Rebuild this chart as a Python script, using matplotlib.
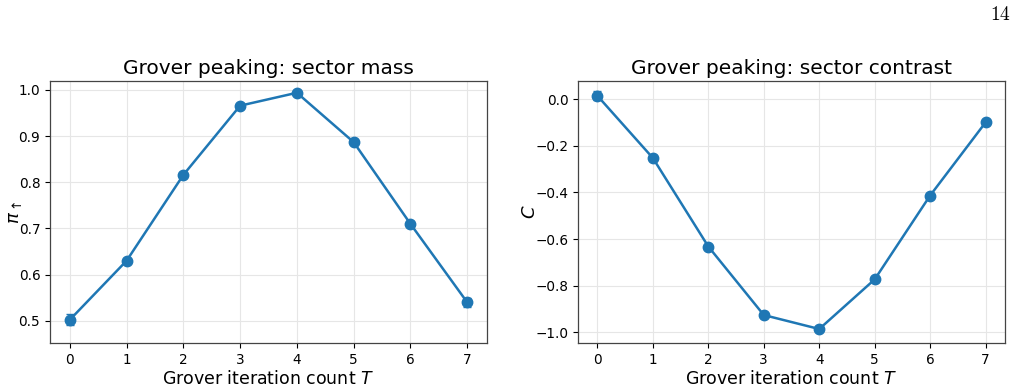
import matplotlib
matplotlib.use("Agg")
import matplotlib.pyplot as plt
import numpy as np

T = [0, 1, 2, 3, 4, 5, 6, 7]
mass = [0.502, 0.630, 0.816, 0.966, 0.994, 0.887, 0.710, 0.540]
mass_err = [0.012, 0.005, 0.004, 0.003, 0.002, 0.004, 0.005, 0.010]
contrast = [0.015, -0.252, -0.632, -0.926, -0.986, -0.773, -0.413, -0.099]
contrast_err = [0.020, 0.015, 0.008, 0.006, 0.004, 0.008, 0.010, 0.010]

plt.rcParams['mathtext.fontset'] = 'dejavusans'
fig = plt.figure(figsize=(10.18, 3.86), dpi=100)
W, H = 1018, 386
ax1 = fig.add_axes([50 / W, 1 - 343 / H, (487 - 50) / W, (343 - 81) / H])
ax2 = fig.add_axes([578 / W, 1 - 343 / H, (1005 - 578) / W, (343 - 81) / H])

color = '#1f77b4'
for ax, y, e, title, ylabel, ylim, lx in [
    (ax1, mass, mass_err, 'Grover peaking: sector mass', r'$\pi_\uparrow$', (0.4516, 1.0195), -0.060),
    (ax2, contrast, contrast_err, 'Grover peaking: sector contrast', r'$C$', (-1.046, 0.0785), -0.091),
]:
    ax.errorbar(T, y, yerr=e, color=color, marker='o', markersize=7.5, linewidth=1.8, capsize=3, elinewidth=1.2)
    ax.set_title(title, fontsize=14.5, pad=5)
    ax.set_xlabel(r'Grover iteration count $T$', fontsize=12.5, labelpad=2)
    ax.set_ylabel(ylabel, fontsize=13)
    ax.yaxis.set_label_coords(lx, 0.5)
    ax.set_xticks(T)
    ax.set_xlim(-0.35, 7.35)
    ax.set_ylim(*ylim)
    ax.tick_params(labelsize=9.8)
    ax.grid(True, color='#e6e6e6', linewidth=0.8)
    ax.set_axisbelow(True)
    for s in ax.spines.values():
        s.set_color('#444444')
        s.set_linewidth(0.9)

fig.text(1011 / W, 1 - 14 / H, r'$\mathrm{14}$', fontsize=14, ha='right', va='center',
         math_fontfamily='cm')

fig.savefig('out.png', dpi=100)
